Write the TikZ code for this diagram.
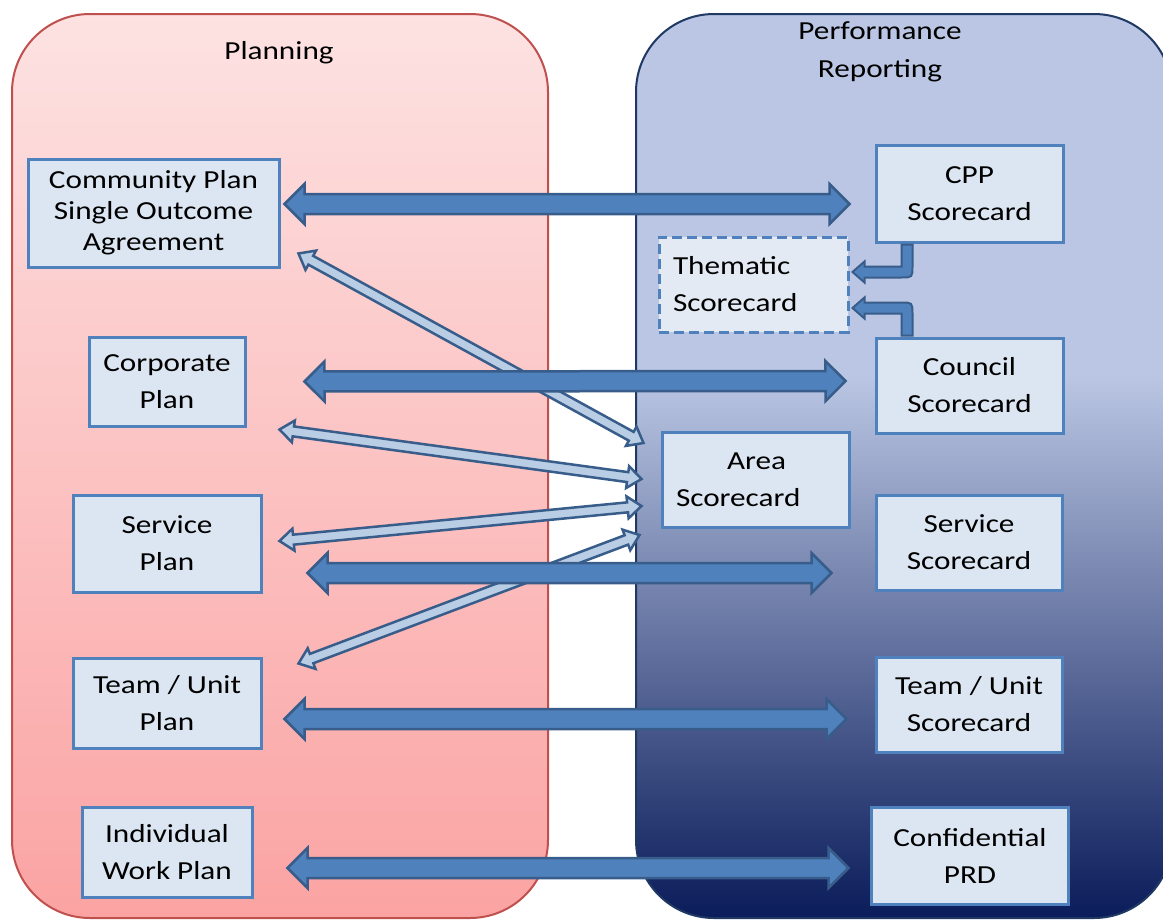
\documentclass[tikz,border=0pt]{standalone}
\usepackage{fontspec}
\setmainfont{Carlito}[FakeStretch=1.2]
\usetikzlibrary{calc}
\definecolor{boxfill}{HTML}{DCE6F2}
\definecolor{boxline}{HTML}{4F81BD}
\definecolor{arrfill}{HTML}{4F81BD}
\definecolor{arrline}{HTML}{385D8A}
\definecolor{thinfill}{HTML}{B9CDE5}
\definecolor{themfill}{HTML}{E4EAF4}
\definecolor{leftline}{HTML}{C0504D}
\definecolor{rightline}{HTML}{1F3864}
\definecolor{leftTop}{HTML}{FDE2E2}
\definecolor{leftBot}{HTML}{FBA3A3}
\definecolor{rpLight}{HTML}{BAC6E3}
\definecolor{rpDark}{HTML}{0A1C5A}
\pgfdeclareverticalshading{rpshade}{100bp}{color(0bp)=(rpDark); color(25bp)=(rpDark); color(55bp)=(rpLight); color(100bp)=(rpLight)}
\tikzset{
  blockarrow/.style n args={3}{to path={
     -- ($(\tikztostart)!#3!(\tikztotarget)!#2!90:(\tikztotarget)$)
     -- ($(\tikztostart)!#3!(\tikztotarget)!#1!90:(\tikztotarget)$)
     -- ($(\tikztotarget)!#3!(\tikztostart)!#1!-90:(\tikztostart)$)
     -- ($(\tikztotarget)!#3!(\tikztostart)!#2!-90:(\tikztostart)$)
     -- (\tikztotarget)
     -- ($(\tikztotarget)!#3!(\tikztostart)!#2!90:(\tikztostart)$)
     -- ($(\tikztotarget)!#3!(\tikztostart)!#1!90:(\tikztostart)$)
     -- ($(\tikztostart)!#3!(\tikztotarget)!#1!-90:(\tikztotarget)$)
     -- ($(\tikztostart)!#3!(\tikztotarget)!#2!-90:(\tikztotarget)$)
     -- cycle}},
  bigarrow/.style={blockarrow={10pt}{20pt}{20pt}, fill=arrfill, draw=arrline, line width=2.5pt},
  thinarrow/.style={blockarrow={5pt}{11pt}{14pt}, fill=thinfill, draw=arrline, line width=2.5pt},
  bentarrow/.style={fill=arrfill, draw=arrline, line width=2pt},
  box/.style={draw=boxline, line width=3pt, fill=boxfill, inner sep=0pt, align=center,
    font=\fontsize{26}{37}\selectfont},
  title/.style={inner sep=0pt, align=center, font=\fontsize{26}{38}\selectfont},
}
\begin{document}
\begin{tikzpicture}[x=1pt,y=-1pt]
\useasboundingbox (0,0) rectangle (1163,921);
\begin{scope}
\clip (0,0) rectangle (1163,921);
% panels
\draw[draw=leftline, line width=2pt, top color=leftTop, bottom color=leftBot, rounded corners=78pt]
  (12,14) rectangle (548,918);
\draw[draw=rightline, line width=2pt, shading=rpshade, rounded corners=78pt]
  (636,14) rectangle (1172,918);
\end{scope}
\node[title] (tplan) at (279,53) {Planning};
\node[title] (tperf) at (880,52) {Performance\\Reporting};
% left boxes
\node[box, minimum width=251pt, minimum height=108pt, font=\fontsize{26}{31}\selectfont] (cp) at (153.5,213) {Community Plan\\Single Outcome\\Agreement};
\node[box, minimum width=156pt, minimum height=89pt] (corp) at (167,381.5) {Corporate\\Plan};
\node[box, minimum width=188pt, minimum height=97pt] (serv) at (167,543.5) {Service\\Plan};
\node[box, minimum width=188pt, minimum height=90pt] (team) at (167,703) {Team / Unit\\Plan};
\node[box, minimum width=170pt, minimum height=90pt] (indiv) at (167,852) {Individual\\Work Plan};
% right boxes
\node[box, minimum width=187pt, minimum height=97pt] (cpp) at (969.5,193.5) {CPP\\Scorecard};
\node[box, fill=themfill, dash pattern=on 10pt off 5pt, minimum width=189pt, minimum height=95pt, text width=161pt, align=left] (them) at (753.5,284.5) {Thematic\\Scorecard};
\node[box, minimum width=187pt, minimum height=95pt] (coun) at (969.5,385.5) {Council\\Scorecard};
\node[box, minimum width=187pt, minimum height=95pt, text width=159pt, align=left] (area) at (755.5,480) {\hspace*{51pt}Area\\Scorecard};
\node[box, minimum width=186pt, minimum height=95pt] (sscore) at (969,542.5) {Service\\Scorecard};
\node[box, minimum width=186pt, minimum height=95pt] (tscore) at (969,704.5) {Team / Unit\\Scorecard};
\node[box, minimum width=197pt, minimum height=97pt] (prd) at (970,855.5) {Confidential\\PRD};
% arrow end coordinates
\coordinate (a1l) at ($(cp.east)+(4,-9)$);
\coordinate (a1r) at ($(cpp.west)+(-25,10.5)$);
\coordinate (a2l) at ($(corp.east)+(58,0)$);
\coordinate (a2r) at ($(coun.west)+(-29,-4.5)$);
\coordinate (a3l) at ($(serv.east)+(45,29.5)$);
\coordinate (a3r) at ($(sscore.west)+(-43,30.5)$);
\coordinate (a4l) at ($(team.east)+(22,16)$);
\coordinate (a4r) at ($(tscore.west)+(-28,14.5)$);
\coordinate (a5l) at ($(indiv.east)+(34,16)$);
\coordinate (a5r) at ($(prd.west)+(-21.5,12.5)$);
\coordinate (b1l) at ($(cp.south east)+(18,-15)$);
\coordinate (b1r) at ($(area.west)+(-17,-37)$);
\coordinate (b2l) at ($(corp.south east)+(33,2)$);
\coordinate (b2r) at ($(area.west)+(-19,-1)$);
\coordinate (b3l) at ($(serv.east)+(17,-2.5)$);
\coordinate (b3r) at ($(area.west)+(-19,26)$);
\coordinate (b4l) at ($(team.north east)+(36,7)$);
\coordinate (b4r) at ($(area.west)+(-21,55)$);
\coordinate (c1s) at ($(cpp.south)+(-62.5,1)$);
\coordinate (c1t) at ($(them.east)+(3,-12.5)$);
\coordinate (c2s) at ($(coun.north)+(-62.5,-1)$);
\coordinate (c2t) at ($(them.east)+(3,23.5)$);
% thin arrows
\draw[thinarrow] (b1l) to (b1r);
\draw[thinarrow] (b2l) to (b2r);
\draw[thinarrow] (b3l) to (b3r);
\draw[thinarrow] (b4l) to (b4r);
% thick arrows
\draw[bigarrow] (a1l) to (a1r);
\draw[bigarrow] (a2l) to (a2r);
\draw[bigarrow] (a3l) to (a3r);
\draw[bigarrow] (a4l) to (a4r);
\draw[bigarrow] (a5l) to (a5r);
% bent arrows
\draw[bentarrow] (c1t) -- ++(12,-10.5) -- ++(0,5)
  -- ($(c1s |- c1t)+(-5.5,-5.5)$) -- ($(c1s)+(-5.5,0)$) -- ($(c1s)+(5.5,0)$)
  -- ($(c1s |- c1t)+(5.5,-6)$) .. controls ($(c1s |- c1t)+(5.5,5.5)$) .. ($(c1s |- c1t)+(-6,5.5)$)
  -- ($(c1t)+(12,5.5)$) -- ++(0,5) -- cycle;
\draw[bentarrow] (c2t) -- ++(12,10.5) -- ++(0,-5)
  -- ($(c2s |- c2t)+(-5.5,5.5)$) -- ($(c2s)+(-5.5,0)$) -- ($(c2s)+(5.5,0)$)
  -- ($(c2s |- c2t)+(5.5,6)$) .. controls ($(c2s |- c2t)+(5.5,-5.5)$) .. ($(c2s |- c2t)+(-6,-5.5)$)
  -- ($(c2t)+(12,-5.5)$) -- ++(0,-5) -- cycle;
\end{tikzpicture}
\end{document}
